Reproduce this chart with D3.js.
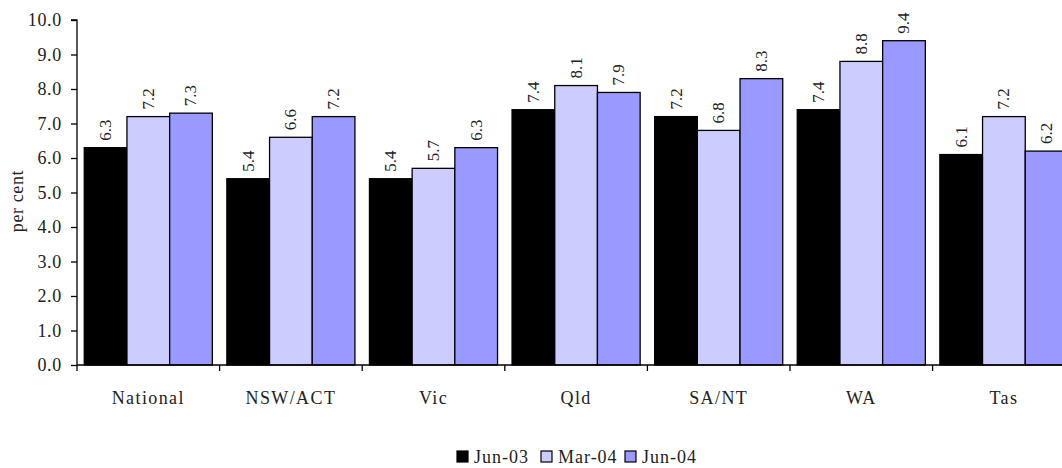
<!DOCTYPE html>
<html><head><meta charset="utf-8">
<script src="https://cdn.jsdelivr.net/npm/d3@7"></script>
<style>body{margin:0;background:#fff;}</style>
</head>
<body><svg id="c" width="1062" height="468"></svg>
<script>
const categories = ["National","NSW/ACT","Vic","Qld","SA/NT","WA","Tas"];
const seriesNames = ["Jun-03","Mar-04","Jun-04"];
const jun03 = [6.3,5.4,5.4,7.4,7.2,7.4,6.1];
const mar04 = [7.2,6.6,5.7,8.1,6.8,8.8,7.2];
const jun04 = [7.3,7.2,6.3,7.9,8.3,9.4,6.2];
const yTicks = [0,1,2,3,4,5,6,7,8,9,10];
const colors = ["#000000","#CCCCFF","#9999FF"];
const seriesValues = [jun03, mar04, jun04];

const FONT = "'Liberation Serif'";
const TXT = "#222";
const svg = d3.select("#c");
const mLeft = 77, mTop = 20, mBottom = 365, band = 142.6;
const x = d3.scaleBand().domain(categories).range([mLeft, mLeft + band*categories.length]).paddingInner(0).paddingOuter(0);
const y = d3.scaleLinear().domain([0,10]).range([mBottom, mTop]);
const inner = d3.scaleBand().domain(seriesNames).range([0, band]).paddingOuter(0.17);

// bars
seriesNames.forEach((s, si) => {
  const g = svg.append("g");
  g.selectAll("rect").data(categories).join("rect")
    .attr("x", c => x(c) + inner(s))
    .attr("y", (c,i) => y(seriesValues[si][i]))
    .attr("width", inner.bandwidth())
    .attr("height", (c,i) => y(0) - y(seriesValues[si][i]))
    .attr("fill", colors[si]).attr("stroke", "#000").attr("stroke-width", 1.3);
  g.selectAll("text").data(categories).join("text")
    .attr("transform", (c,i) => `translate(${x(c)+inner(s)+inner.bandwidth()/2+5.5},${y(seriesValues[si][i])-7}) rotate(-90)`)
    .style("font-family", FONT).style("font-size", "17px").style("fill", TXT).attr("text-anchor","start")
    .text((c,i) => seriesValues[si][i].toFixed(1));
});

// y axis
const yAxis = d3.axisLeft(y).tickValues(yTicks).tickFormat(d => d.toFixed(1)).tickSize(6).tickPadding(9);
const ya = svg.append("g").attr("transform", `translate(${mLeft},0)`).call(yAxis);
ya.select(".domain").attr("stroke","#000").attr("stroke-width",1.3).attr("d", `M-6,${y(10)}H0V${y(0)}`);
ya.selectAll(".tick line").attr("stroke","#000").attr("stroke-width",1.3);
ya.selectAll(".tick text").style("font-family",FONT).style("font-size","18px").style("letter-spacing","0.7px").style("fill",TXT);

// x axis
const xa = svg.append("g").attr("transform", `translate(0,${mBottom})`);
xa.append("line").attr("x1", mLeft).attr("x2", 1062).attr("y1",0).attr("y2",0).attr("stroke","#000").attr("stroke-width",1.3);
xa.selectAll("line.t").data(categories).join("line").attr("class","t")
  .attr("x1", c => x(c)).attr("x2", c => x(c)).attr("y1",0).attr("y2",6).attr("stroke","#000").attr("stroke-width",1.3);
xa.selectAll("text").data(categories).join("text")
  .attr("x", c => x(c) + band/2).attr("y", 39).attr("text-anchor","middle")
  .style("font-family", FONT).style("font-size","18px").style("letter-spacing","1.4px").style("fill",TXT).text(c => c);

// y label
svg.append("text").attr("transform","translate(23,201) rotate(-90)").attr("text-anchor","middle")
  .style("font-family", FONT).style("font-size","18px").style("letter-spacing","0.6px").style("fill",TXT).text("per cent");

// legend
const legX = [457, 541, 625];
const lg = svg.append("g");
seriesNames.forEach((s,i) => {
  lg.append("rect").attr("x", legX[i]).attr("y", 451).attr("width", 11).attr("height", 11)
    .attr("fill", colors[i]).attr("stroke","#000").attr("stroke-width",1.2);
  lg.append("text").attr("x", legX[i]+17).attr("y", 463)
    .style("font-family", FONT).style("font-size","18px").style("letter-spacing","1px").style("fill",TXT).text(s);
});
</script></body></html>
